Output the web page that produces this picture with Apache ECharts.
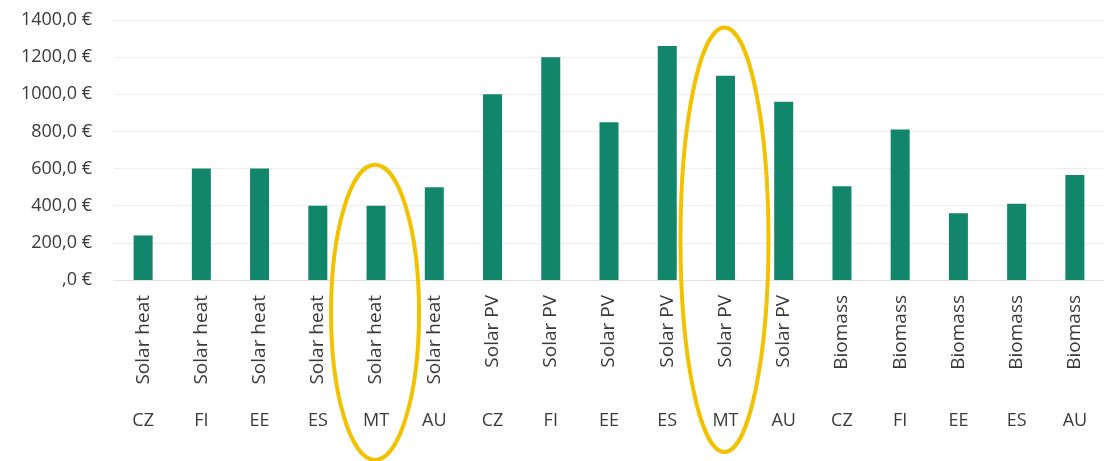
<!DOCTYPE html>
<html>
<head>
<meta charset="utf-8">
<title>Costs per technology</title>
<script src="https://cdn.jsdelivr.net/npm/echarts@6/dist/echarts.min.js"></script>
<style>
  html, body { margin: 0; padding: 0; background: #fff; }
  #main { width: 1104px; height: 461px; }
</style>
</head>
<body>
<div id="main"></div>
<script>
// data
var techs = ['Solar heat', 'Solar heat', 'Solar heat', 'Solar heat', 'Solar heat', 'Solar heat',
             'Solar PV', 'Solar PV', 'Solar PV', 'Solar PV', 'Solar PV', 'Solar PV',
             'Biomass', 'Biomass', 'Biomass', 'Biomass', 'Biomass'];
var countries = ['CZ', 'FI', 'EE', 'ES', 'MT', 'AU',
                 'CZ', 'FI', 'EE', 'ES', 'MT', 'AU',
                 'CZ', 'FI', 'EE', 'ES', 'AU'];
var costs = [240, 600, 600, 400, 400, 500,
             1000, 1200, 850, 1260, 1100, 960,
             505, 810, 360, 410, 565];
var yTicks = [0, 200, 400, 600, 800, 1000, 1200, 1400];
// the two circled bars (MT)
var ringIdx = [4, 10];
var ringTop = [620, 1360];

var font = '"Open Sans", Lato, sans-serif';
var chart = echarts.init(document.getElementById('main'));

chart.setOption({
  animation: false,
  grid: { left: 114, right: 0, top: 20, bottom: 181 },
  xAxis: [{
    type: 'category',
    data: techs,
    position: 'bottom',
    axisLine: { lineStyle: { color: '#e2e2e2' } },
    axisTick: { length: 155, lineStyle: { color: '#eeeeee' } },
    axisLabel: {
      rotate: 90, margin: 15, interval: 0,
      color: '#3a3a3a', fontSize: 19, fontFamily: font
    }
  }, {
    type: 'category',
    data: countries,
    position: 'bottom',
    offset: 124,
    axisLine: { show: false },
    axisTick: { show: false },
    axisLabel: {
      interval: 0, margin: 8,
      color: '#3a3a3a', fontSize: 18, fontFamily: font
    }
  }],
  yAxis: {
    type: 'value',
    min: yTicks[0],
    max: yTicks[yTicks.length - 1],
    interval: 200,
    axisLine: { show: false },
    axisTick: { show: false },
    splitLine: { lineStyle: { color: '#eeeeee' } },
    axisLabel: {
      margin: 22, color: '#3a3a3a', fontSize: 18, fontFamily: font,
      formatter: function (v) { return (v === 0 ? '' : v) + ',0 €'; }
    }
  },
  series: [{
    type: 'bar',
    xAxisIndex: 0,
    data: costs,
    barWidth: 19,
    itemStyle: { color: '#12866a' }
  }]
});

// yellow rings round the MT bars, placed through the axes
function drawRings() {
  var bottoms = [460, 452];
  var els = ringIdx.map(function (idx, i) {
    var top = chart.convertToPixel({ xAxisIndex: 0, yAxisIndex: 0 }, [idx, ringTop[i]]);
    var cy = (top[1] + bottoms[i]) / 2;
    return {
      type: 'ellipse',
      shape: { cx: top[0] - 1, cy: cy, rx: 44, ry: bottoms[i] - cy },
      style: { fill: null, stroke: '#f2c100', lineWidth: 4 },
      z: 100
    };
  });
  chart.setOption({ graphic: els });
}
drawRings();
</script>
</body>
</html>
